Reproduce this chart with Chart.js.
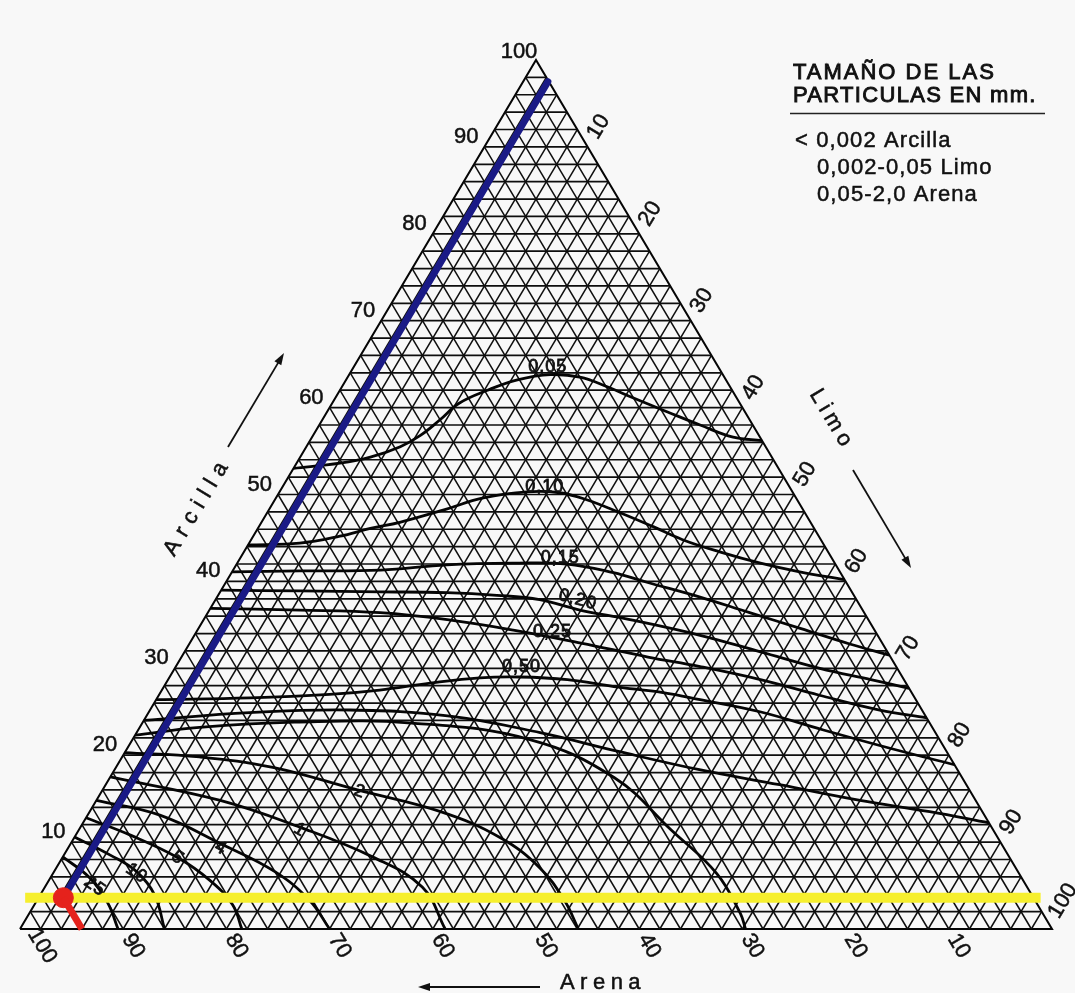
<!DOCTYPE html>
<html lang="es">
<head>
<meta charset="utf-8">
<title>Triángulo textural</title>
<script src="https://cdn.jsdelivr.net/npm/chart.js@4.4.1/dist/chart.umd.min.js"></script>
<style>
  html, body { margin: 0; padding: 0; background: #f8f8f8; }
  #wrap { width: 1075px; height: 993px; }
</style>
</head>
<body>
<div id="wrap"><canvas id="chart" width="1075" height="993"></canvas></div>
<script>
// Grid spacing (percent) and axis ticks
const gridStep = 2;
const clayTicks = [10, 20, 30, 40, 50, 60, 70, 80, 90, 100];
const siltTicks = [10, 20, 30, 40, 50, 60, 70, 80, 90, 100];
const sandTicks = [100, 90, 80, 70, 60, 50, 40, 30, 20, 10];

// Iso-lines; every point is [arcilla %, limo %]
const curve005 = [[53,0],[53.6,4.2],[54.3,6.8],[55.5,9.1],[56.8,10.4],[58.6,11.4],[60.5,12.3],[62,14.3],[63.2,16.6],[63.8,19.5],[63.5,22.5],[62.4,25.7],[61.1,28.9],[59.5,33],[58,36.9],[56.6,40.8],[56.2,43.8]];
const curve010 = [[44.2,0],[44.4,4.9],[45.2,8.4],[46.1,10.9],[46.8,13.4],[48.2,16.9],[49.6,20.1],[50.3,24],[50.2,27.2],[49.4,30.2],[47.9,34.2],[46.3,38.2],[44.8,41.8],[43.4,46.1],[42.1,50.7],[41.1,55],[40.2,59.8]];
const curve015 = [[41.1,0],[41.2,6.5],[41.3,14.3],[41.9,20.4],[42.1,26.7],[42,32],[41,37],[39.9,40.8],[38.2,46.8],[36.4,52.5],[34.6,58.3],[32.8,64],[31.5,68.5]];
const curve020 = [[39,0],[38.9,7.7],[38.8,15.5],[38.7,22],[38.4,27],[37.9,31.4],[36.7,35.9],[35.6,41.3],[33.8,49],[31.9,55.8],[30,62.5],[28.7,68.1],[27.7,72.3]];
const curve025 = [[36.9,0],[36.7,8.8],[36.4,16.7],[35.6,23.6],[34.4,30.6],[32.9,37.9],[31.3,45.2],[30.2,50.8],[28.7,57.4],[26.9,64],[25.2,70.7],[24.3,75.7]];
const curve050 = [[26.4,0],[26.6,9],[27,16.5],[27.5,21.1],[28.3,25.6],[28.9,30.1],[29,33.9],[28.7,38.7],[27.9,43.6],[27.2,48.7],[26.4,52.7],[25,59.2],[22.9,66.4],[20.8,73.9],[18.9,81.1]];
const curveMid = [[24,0],[24.9,9.8],[25.2,19.4],[24.5,29.4],[22.6,39.1],[20.4,47.9],[18.3,56.8],[16.6,65.3],[14.8,74],[13.5,81.4],[12.2,87.8]];
const curveTop = [[22.3,0],[23.2,5.8],[23.8,14.7],[23.7,26.1],[21.8,38.5],[17.4,48.9],[11.4,57.4],[6.4,64.3],[1.8,68.9],[0,70.3]];
const curve2 = [[20.3,0],[19.8,7.5],[18.6,15.2],[16,24.7],[13.5,34],[10.5,41.3],[7,46.9],[3.3,51.1],[0,54.1]];
const curve1 = [[17.5,0],[14.8,12],[11.7,21.3],[8.3,30],[4.8,36.6],[0,41.2]];
const curve4 = [[14.8,0],[13.1,7],[9.7,14.8],[6.6,21.4],[3.3,26.4],[0,30]];
const curve5 = [[12.8,0],[10.8,5.3],[8.2,11.2],[5.6,15.6],[2.8,19.2],[0,21.5]];
const curve10 = [[10.6,0],[8.5,4.5],[6.6,8],[3.9,11.1],[0,14]];
const curve25 = [[8.3,0],[5.9,3.8],[3,7],[0,9.5]];

// Iso-line labels: text, position [arcilla %, limo %], rotation (deg)
const curveLabelText = ['0,05', '0,10', '0,15', '0,20', '0,25', '0,50', '2', '1', '4', '5', '10', '25'];
const curveLabelPos = [[64.7,18.8],[50.9,25.4],[42.7,31],[37.9,35.1],[34.2,34.5],[30.2,33.5],[15.8,25],[11.4,21.4],[9.3,14.8],[8.2,11.2],[6.4,8.1],[4.9,4.8]];
const curveLabelRot = [0, 0, 0, 15, 0, 0, 20, 30, 30, 35, 35, 35];

// Sample marked on the diagram: [arcilla %, limo %]
const sampleClay = 3.6;
const sampleSilt = 2.4;
const yellowLine = [[3.6,-1.3],[3.6,97.1]];
const blueLine = [[3.6,2.4],[97.5,2.4]];
const redLine = [[3.6,2.4],[0,6]];

// Legend text
const legendTitle = ['TAMAÑO DE LAS', 'PARTICULAS EN mm.'];
const legendItems = ['< 0,002 Arcilla', '0,002-0,05 Limo', '0,05-2,0 Arena'];

// ternary [clay, silt] -> cartesian chart values
const tp = (c, s) => ({ x: s + c / 2, y: c });
const toPts = arr => arr.map(p => tp(p[0], p[1]));

const datasets = [];
const seg = (pts, extra) => Object.assign({
  data: pts, showLine: true, pointRadius: 0, borderColor: '#0e0e0e',
  borderWidth: 1.5, tension: 0, order: 4, clip: false
}, extra || {});

// triangular grid
for (let k = gridStep; k < 100; k += gridStep) {
  datasets.push(seg([tp(k, 0), tp(k, 100 - k)], { borderWidth: 1.7 }));  // arcilla constante
  datasets.push(seg([tp(0, k), tp(100 - k, k)]));                         // limo constante
  datasets.push(seg([tp(0, 100 - k), tp(100 - k, 0)]));                   // arena constante
}
datasets.push(seg([tp(0, 0), tp(0, 100), tp(100, 0), tp(0, 0)], { borderWidth: 2, borderColor: '#050505' }));

// iso-lines
[curve005, curve010, curve015, curve020, curve025, curve050, curveMid, curveTop,
 curve2, curve1, curve4, curve5, curve10, curve25].forEach(c => {
  datasets.push(seg(toPts(c), { borderWidth: 2.8, borderColor: '#050505', tension: 0.4, order: 3 }));
});

// sample lines
datasets.push(seg(toPts(yellowLine), { borderColor: '#f6ef2e', borderWidth: 10, order: 2, borderCapStyle: 'butt' }));
datasets.push(seg(toPts(blueLine), { borderColor: '#1a1a86', borderWidth: 7, order: 1, borderCapStyle: 'round' }));
datasets.push(seg(toPts(redLine), { borderColor: '#e5221c', borderWidth: 7, order: 0, borderCapStyle: 'butt' }));
datasets.push({
  data: [tp(sampleClay, sampleSilt)], showLine: false, pointRadius: 10,
  pointBackgroundColor: '#e5221c', pointBorderColor: '#e5221c', order: 0, clip: false
});

function drawText(ctx, txt, x, y, opt) {
  ctx.save();
  ctx.translate(x, y);
  ctx.rotate((opt.rot || 0) * Math.PI / 180);
  ctx.font = opt.font || '22px "Liberation Sans", Arial, sans-serif';
  ctx.fillStyle = opt.color || '#111';
  ctx.strokeStyle = opt.color || '#111';
  ctx.lineWidth = opt.weight === undefined ? 0.5 : opt.weight;
  ctx.textAlign = opt.align || 'center';
  ctx.textBaseline = 'middle';
  ctx.letterSpacing = (opt.spacing || 0) + 'px';
  ctx.fillText(txt, 0, 0);
  if (ctx.lineWidth > 0) ctx.strokeText(txt, 0, 0);
  ctx.restore();
}

function arrow(ctx, x1, y1, x2, y2) {
  const a = Math.atan2(y2 - y1, x2 - x1);
  ctx.save();
  ctx.strokeStyle = '#111';
  ctx.fillStyle = '#111';
  ctx.lineWidth = 1.8;
  ctx.beginPath();
  ctx.moveTo(x1, y1);
  ctx.lineTo(x2 - 6 * Math.cos(a), y2 - 6 * Math.sin(a));
  ctx.stroke();
  ctx.beginPath();
  ctx.moveTo(x2, y2);
  ctx.lineTo(x2 - 12 * Math.cos(a) + 4 * Math.sin(a), y2 - 12 * Math.sin(a) - 4 * Math.cos(a));
  ctx.lineTo(x2 - 12 * Math.cos(a) - 4 * Math.sin(a), y2 - 12 * Math.sin(a) + 4 * Math.cos(a));
  ctx.closePath();
  ctx.fill();
  ctx.restore();
}

const decor = {
  id: 'decor',
  beforeDraw(chart) {
    const ctx = chart.ctx;
    ctx.save();
    ctx.fillStyle = '#f8f8f8';
    ctx.fillRect(0, 0, chart.width, chart.height);
    ctx.restore();
  },
  afterDatasetsDraw(chart) {
    const ctx = chart.ctx, xs = chart.scales.x, ys = chart.scales.y;
    const P = (c, s) => [xs.getPixelForValue(s + c / 2), ys.getPixelForValue(c)];
    const tickFont = '22px "Liberation Sans", Arial, sans-serif';

    // Arcilla ticks (left side)
    clayTicks.forEach(v => {
      const [x, y] = P(v, 0);
      if (v === 100) drawText(ctx, String(v), x - 17, y - 8, { font: tickFont });
      else drawText(ctx, String(v), x - 6, y - 10, { font: tickFont, align: 'right' });
    });
    // Limo ticks (right side)
    siltTicks.forEach(v => {
      const [x, y] = P(100 - v, v);
      const dy = v === 100 ? -28 : -20;
      drawText(ctx, String(v), x + 11, y + dy, { font: tickFont, rot: -59 });
    });
    // Arena ticks (bottom)
    sandTicks.forEach(v => {
      const [x, y] = P(0, 100 - v);
      const dx = v === 100 ? 22 : 10;
      drawText(ctx, String(v), x + dx, y + 17, { font: tickFont, rot: 59 });
    });

    // axis titles with arrows
    const titleFont = '22px "Liberation Sans", Arial, sans-serif';
    drawText(ctx, 'Arcilla', 198, 506, { font: titleFont, rot: -59, spacing: 7.5 });
    arrow(ctx, 228, 447, 284, 353);
    drawText(ctx, 'Limo', 832, 420, { font: titleFont, rot: 59, spacing: 5 });
    arrow(ctx, 853, 470, 911, 568);
    drawText(ctx, 'Arena', 603, 983, { font: titleFont, spacing: 5.5 });
    arrow(ctx, 540, 987, 418, 987);

    // iso-line labels
    curveLabelText.forEach((t, i) => {
      const [x, y] = P(curveLabelPos[i][0], curveLabelPos[i][1]);
      drawText(ctx, t, x, y, { font: '18px "Liberation Sans", Arial, sans-serif', rot: curveLabelRot[i], spacing: 1, weight: 0.8 });
    });

    // legend block
    const lf = '22px "Liberation Sans", Arial, sans-serif';
    drawText(ctx, legendTitle[0], 793, 73, { font: lf, align: 'left', spacing: 2, weight: 0.9 });
    drawText(ctx, legendTitle[1], 793, 96, { font: lf, align: 'left', spacing: 1.3, weight: 0.9 });
    ctx.save();
    ctx.strokeStyle = '#222';
    ctx.lineWidth = 1.6;
    ctx.beginPath();
    ctx.moveTo(790, 113.5);
    ctx.lineTo(1045, 113.5);
    ctx.stroke();
    ctx.restore();
    drawText(ctx, legendItems[0], 795, 141, { font: lf, align: 'left', spacing: 1.1 });
    drawText(ctx, legendItems[1], 817, 168, { font: lf, align: 'left', spacing: 1.1 });
    drawText(ctx, legendItems[2], 817, 195, { font: lf, align: 'left', spacing: 1.1 });
  }
};

new Chart(document.getElementById('chart'), {
  type: 'scatter',
  data: { datasets },
  options: {
    responsive: false,
    animation: false,
    events: [],
    layout: { padding: { left: 20, right: 23, top: 60, bottom: 64 } },
    plugins: { legend: { display: false }, tooltip: { enabled: false } },
    scales: {
      x: { type: 'linear', min: 0, max: 100, display: false },
      y: { type: 'linear', min: 0, max: 100, display: false }
    }
  },
  plugins: [decor]
});
</script>
</body>
</html>
